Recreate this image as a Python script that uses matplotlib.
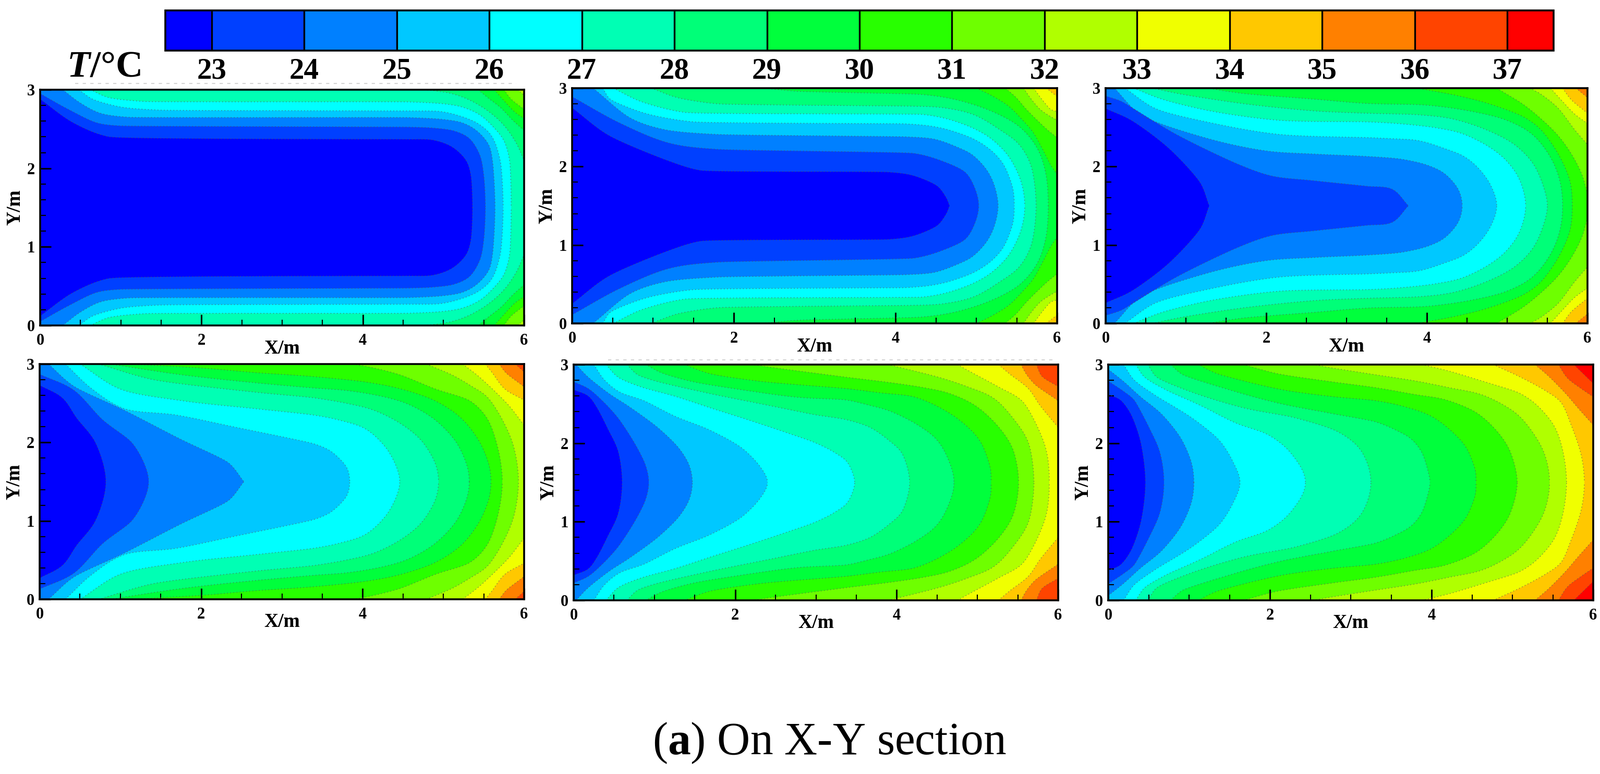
import matplotlib
matplotlib.use('Agg')
import matplotlib.pyplot as plt
import numpy as np
from matplotlib.cm import ScalarMappable
from matplotlib.colors import BoundaryNorm, ListedColormap
from matplotlib.lines import Line2D

W, H = 3068, 1484

plt.rcParams['font.family'] = ['Liberation Serif', 'DejaVu Serif']
plt.rcParams['font.weight'] = 'bold'
plt.rcParams['mathtext.fontset'] = 'custom'
plt.rcParams['mathtext.rm'] = 'Liberation Serif'
plt.rcParams['mathtext.bf'] = 'Liberation Serif:bold'
plt.rcParams['mathtext.it'] = 'Liberation Serif:italic:bold'

# colour of each temperature band, below 23 up to above 37
band_colors = ['#0000ff', '#0040ff', '#0080ff', '#00c8ff', '#00ffff', '#00ffb4', '#00ff78', '#00ff3c',
               '#28ff00', '#6eff00', '#b0ff00', '#f0ff00', '#ffc800', '#ff8000', '#ff4400', '#ff0000']
cbar_bounds = [22.5, 23, 24, 25, 26, 27, 28, 29, 30, 31, 32, 33, 34, 35, 36, 37, 37.5]
cbar_ticks = [23, 24, 25, 26, 27, 28, 29, 30, 31, 32, 33, 34, 35, 36, 37]

# isotherms, lower half of each section (x, y) in metres.
# the sections are mirrored about y = 1.5
panel1 = {
    23: [(0, .12), (.41, .42), (.86, .6), (4.55, .63), (4.87, .64), (5.11, .73), (5.28, .9), (5.34, 1.09), (5.36, 1.5)],
    24: [(0, .05), (.35, .25), (.7, .42), (1.0, .46), (4.55, .475), (4.87, .487), (5.13, .524), (5.32, .62), (5.45, .83), (5.5, 1.09), (5.52, 1.5)],
    25: [(.28, 0), (.5, .17), (.75, .3), (1.1, .35), (4.55, .354), (4.98, .376), (5.23, .42), (5.41, .52), (5.56, .7), (5.61, .92), (5.64, 1.5)],
    26: [(.48, 0), (.65, .12), (1.0, .22), (1.5, .26), (4.55, .27), (4.95, .276), (5.19, .33), (5.41, .42), (5.56, .54), (5.64, .675), (5.71, .94), (5.74, 1.5)],
    27: [(.62, 0), (.85, .1), (1.3, .15), (4.55, .155), (4.98, .177), (5.23, .22), (5.45, .32), (5.62, .476), (5.75, .65), (5.82, .9), (5.84, 1.5)],
    28: [(4.76, 0), (5.08, .044), (5.32, .13), (5.56, .277), (5.75, .454), (5.9, .675), (6, .9)],
    29: [(5.43, 0), (5.56, .11), (5.71, .23), (5.86, .39), (6, .52)],
    30: [(5.63, 0), (5.75, .14), (5.88, .28), (6, .37)],
    31: [(5.75, 0), (5.84, .12), (6, .25)],
    32: [(5.92, 0), (6, .07)],
}
panel2 = {
    23: [(0, .25), (.45, .6), (1.2, .93), (1.6, 1.05), (3.9, 1.07), (4.22, 1.115), (4.52, 1.25), (4.63, 1.4), (4.67, 1.5)],
    24: [(0, .11), (.6, .45), (1.2, .7), (1.8, .78), (4.22, .83), (4.54, .915), (4.86, 1.07), (4.98, 1.27), (5.03, 1.5)],
    25: [(.26, 0), (.72, .38), (1.15, .53), (1.8, .59), (4.11, .62), (4.48, .65), (4.76, .75), (4.95, .85), (5.12, 1.03), (5.22, 1.23), (5.27, 1.5)],
    26: [(.38, 0), (.47, .14), (.9, .32), (1.5, .43), (4.11, .455), (4.41, .48), (4.65, .53), (4.97, .65), (5.19, .8), (5.34, .98), (5.45, 1.27), (5.47, 1.5)],
    27: [(.51, 0), (.85, .17), (1.4, .31), (4.33, .335), (4.65, .395), (4.97, .515), (5.19, .65), (5.4, .87), (5.55, 1.18), (5.6, 1.5)],
    28: [(.98, 0), (1.3, .12), (1.8, .2), (4.22, .23), (4.59, .25), (4.97, .34), (5.29, .53), (5.53, .72), (5.68, 1.0), (5.74, 1.5)],
    29: [(2.35, 0), (2.8, .04), (3.9, .067), (4.37, .085), (4.76, .15), (5.19, .295), (5.53, .49), (5.75, .76), (5.86, 1.09), (5.89, 1.5)],
    30: [(5.0, 0), (5.19, .095), (5.4, .23), (5.57, .405), (5.7, .56), (5.81, .76), (5.92, .98), (6, 1.1)],
    31: [(5.36, 0), (5.49, .117), (5.62, .27), (5.75, .405), (5.89, .54), (6, .63)],
    32: [(5.585, 0), (5.68, .14), (5.79, .27), (5.9, .35), (6, .41)],
    33: [(5.71, 0), (5.81, .14), (5.92, .27), (6, .3)],
    34: [(5.865, 0), (6, .106)],
}
panel3 = {
    23: [(0, .26), (.32, .41), (.79, .77), (1.18, 1.21), (1.29, 1.5)],
    24: [(0, .1), (.2, .17), (.88, .59), (1.65, .97), (2.07, 1.12), (2.59, 1.18), (3.25, 1.25), (3.57, 1.29), (3.77, 1.5)],
    25: [(.11, 0), (.45, .35), (1.3, .65), (2.0, .8), (2.6, .84), (3.25, .87), (3.68, .905), (4.0, .98), (4.22, 1.09), (4.39, 1.29), (4.44, 1.5)],
    26: [(.24, 0), (.62, .26), (1.3, .44), (2.16, .59), (3.25, .63), (3.57, .645), (3.9, .67), (4.22, .77), (4.46, .87), (4.65, 1.03), (4.8, 1.25), (4.87, 1.5)],
    27: [(.35, 0), (.7, .14), (1.3, .29), (2.16, .41), (3.25, .43), (3.68, .455), (4.11, .505), (4.44, .58), (4.76, .74), (4.98, .915), (5.15, 1.16), (5.23, 1.5)],
    28: [(.58, 0), (.96, .08), (1.73, .2), (2.59, .29), (3.25, .32), (3.9, .34), (4.33, .395), (4.76, .54), (5.09, .72), (5.32, .96), (5.45, 1.25), (5.5, 1.5)],
    29: [(1.26, 0), (1.73, .07), (2.59, .14), (3.25, .195), (4.0, .217), (4.55, .295), (4.98, .405), (5.3, .58), (5.52, .85), (5.65, 1.16), (5.69, 1.5)],
    30: [(3.87, 0), (4.33, .085), (4.76, .195), (5.19, .36), (5.41, .52), (5.63, .83), (5.78, 1.18), (5.81, 1.5)],
    31: [(4.87, 0), (5.19, .2), (5.41, .38), (5.63, .6), (5.8, .84), (5.93, 1.1), (6, 1.35)],
    32: [(5.28, 0), (5.41, .07), (5.63, .25), (5.84, .53), (6, .72)],
    33: [(5.54, 0), (5.69, .17), (5.84, .33), (6, .45)],
    34: [(5.69, 0), (5.8, .15), (6, .32)],
    35: [(5.855, 0), (6, .12)],
}
panel4 = {
    23: [(0, .27), (.28, .43), (.46, .69), (.69, 1.0), (.82, 1.5)],
    24: [(0, .13), (.42, .33), (.78, .71), (1.14, 1.0), (1.3, 1.28), (1.35, 1.5)],
    25: [(.11, 0), (.42, .28), (1.05, .59), (1.73, .95), (2.34, 1.26), (2.53, 1.5)],
    26: [(.32, 0), (.64, .31), (1.05, .57), (1.69, .65), (2.4, .8), (3.39, 1.015), (3.61, 1.115), (3.8, 1.315), (3.84, 1.5)],
    27: [(.5, 0), (1.0, .32), (1.78, .47), (2.68, .57), (3.39, .65), (3.71, .715), (4.04, .83), (4.29, 1.07), (4.42, 1.315), (4.46, 1.5)],
    28: [(.73, 0), (1.41, .2), (2.68, .36), (3.39, .43), (3.82, .505), (4.14, .59), (4.47, .76), (4.73, .98), (4.9, 1.27), (4.94, 1.5)],
    29: [(.87, 0), (1.78, .14), (2.68, .24), (3.39, .305), (3.82, .34), (4.25, .415), (4.57, .515), (4.9, .715), (5.16, 1.0), (5.29, 1.29), (5.32, 1.5)],
    30: [(1.1, 0), (2.0, .05), (2.68, .11), (3.39, .16), (4.04, .23), (4.47, .317), (4.9, .47), (5.22, .69), (5.44, .98), (5.56, 1.27), (5.59, 1.5)],
    31: [(3.88, 0), (4.14, .05), (4.47, .14), (4.9, .317), (5.33, .47), (5.54, .69), (5.67, 1.05), (5.73, 1.5)],
    32: [(4.79, 0), (5.11, .14), (5.33, .27), (5.54, .417), (5.72, .69), (5.87, 1.05), (5.93, 1.5)],
    33: [(5.24, 0), (5.44, .16), (5.65, .36), (5.82, .54), (6, .78)],
    34: [(5.52, 0), (5.61, .117), (5.76, .317), (6, .46)],
    35: [(5.69, 0), (5.78, .117), (6, .29)],
    36: [(5.89, 0), (6, .1)],
}
panel5 = {
    23: [(0, .32), (.18, .4), (.29, .55), (.42, .81), (.55, 1.1), (.6, 1.5)],
    24: [(0, .22), (.18, .305), (.355, .46), (.55, .68), (.76, 1.01), (.89, 1.28), (.93, 1.5)],
    25: [(.03, 0), (.18, .16), (.44, .37), (.68, .53), (1.04, .8), (1.3, 1.06), (1.43, 1.28), (1.47, 1.5)],
    26: [(.25, 0), (.38, .195), (.57, .35), (.87, .46), (1.26, .66), (1.69, .836), (2.08, 1.06), (2.31, 1.3), (2.4, 1.5)],
    27: [(.4, 0), (.55, .16), (.83, .283), (1.26, .405), (1.69, .55), (2.12, .69), (2.55, .836), (2.98, .99), (3.2, 1.1), (3.37, 1.22), (3.44, 1.34), (3.48, 1.5)],
    28: [(.66, 0), (.79, .128), (1.04, .217), (1.69, .37), (2.34, .504), (2.98, .637), (3.37, .7), (3.67, .8), (3.91, .97), (4.06, 1.12), (4.14, 1.34), (4.16, 1.5)],
    29: [(.89, 0), (1.09, .106), (1.47, .217), (2.12, .327), (2.77, .416), (3.37, .45), (3.65, .515), (3.91, .59), (4.23, .75), (4.49, .95), (4.64, 1.21), (4.71, 1.5)],
    30: [(1.37, 0), (1.69, .117), (2.34, .217), (3.37, .305), (3.8, .36), (4.19, .405), (4.45, .504), (4.77, .7), (5.03, .97), (5.16, 1.32), (5.17, 1.5)],
    31: [(2.2, 0), (2.55, .05), (3.37, .16), (3.91, .228), (4.34, .294), (4.66, .37), (4.98, .526), (5.26, .79), (5.44, 1.08), (5.51, 1.5)],
    32: [(3.89, 0), (4.23, .084), (4.55, .17), (4.88, .283), (5.2, .427), (5.44, .68), (5.63, .99), (5.7, 1.5)],
    33: [(4.75, 0), (4.98, .128), (5.26, .283), (5.54, .45), (5.69, .68), (5.85, 1.08), (5.89, 1.5)],
    34: [(5.26, 0), (5.41, .128), (5.63, .305), (5.78, .526), (6, .8)],
    35: [(5.54, 0), (5.61, .128), (5.72, .26), (6, .46)],
    36: [(5.73, 0), (5.8, .15), (6, .28)],
}
panel6 = {
    23: [(0, .38), (.15, .45), (.28, .63), (.4, .98), (.46, 1.5)],
    24: [(0, .21), (.19, .34), (.32, .45), (.51, .81), (.64, 1.12), (.69, 1.5)],
    25: [(0, .06), (.19, .215), (.4, .41), (.66, .63), (.9, .94), (1.03, 1.25), (1.06, 1.5)],
    26: [(.19, 0), (.32, .195), (.58, .39), (1.03, .675), (1.37, .96), (1.54, 1.23), (1.63, 1.5)],
    27: [(.34, 0), (.45, .16), (.71, .32), (1.14, .52), (1.57, .74), (1.99, .9), (2.27, 1.14), (2.44, 1.5)],
    28: [(.49, 0), (.6, .16), (1.03, .35), (1.67, .55), (2.32, .68), (2.85, .86), (3.13, 1.1), (3.25, 1.5)],
    29: [(.77, 0), (.92, .128), (1.46, .31), (2.1, .49), (2.75, .62), (3.31, .73), (3.57, .84), (3.75, .95), (3.88, 1.12), (3.96, 1.37), (3.98, 1.5)],
    30: [(1.11, 0), (1.35, .117), (2.1, .31), (2.75, .405), (3.31, .46), (3.68, .54), (4.0, .66), (4.26, .86), (4.43, 1.06), (4.54, 1.34), (4.55, 1.5)],
    31: [(1.67, 0), (2.1, .117), (2.75, .217), (3.31, .294), (3.79, .38), (4.18, .45), (4.56, .615), (4.82, .86), (4.97, 1.1), (5.06, 1.5)],
    32: [(2.53, 0), (2.75, .04), (3.31, .13), (3.79, .206), (4.22, .294), (4.65, .394), (5.04, .615), (5.25, .86), (5.4, 1.146), (5.46, 1.5)],
    33: [(3.88, 0), (4.22, .084), (4.65, .217), (5.08, .36), (5.29, .504), (5.51, .77), (5.62, 1.08), (5.67, 1.5)],
    34: [(4.76, 0), (5.08, .15), (5.4, .327), (5.6, .48), (5.72, .75), (5.85, 1.146), (5.89, 1.5)],
    35: [(5.28, 0), (5.45, .15), (5.66, .37), (5.81, .55), (6, .77)],
    36: [(5.57, 0), (5.68, .17), (5.85, .305), (6, .41)],
    37: [(5.76, 0), (6, .24)],
}
panels = [panel1, panel2, panel3, panel4, panel5, panel6]
# levels that come to a point on the mid line instead of a round nose
pointed = [[], [23], [23, 24], [25], [], []]

# left, right, top, bottom of every frame in pixels
frames = [(77, 1005, 172, 624), (1097, 2027, 169, 620), (2120, 3044, 169, 620),
          (76, 1005, 698, 1149), (1100, 2029, 699, 1151), (2125, 3055, 699, 1151)]


def add_axes_px(left, right, top, bottom):
    return fig.add_axes([left / W, 1 - bottom / H, (right - left) / W, (bottom - top) / H])


def round_off(pts, round_nose):
    # bezier through the read points so the isotherm has no corners,
    # short handles keep the long flat runs from bulging
    p = np.array(pts, dtype=float)
    seg = np.diff(p, axis=0)
    seg_len = np.hypot(seg[:, 0], seg[:, 1])
    unit = seg / seg_len[:, None]
    tang = np.zeros_like(p)
    reach = np.zeros(len(p))
    tang[0] = unit[0]
    reach[0] = seg_len[0]
    tang[-1] = [0, 1] if round_nose else unit[-1]
    reach[-1] = seg_len[-1]
    for i in range(1, len(p) - 1):
        t = unit[i - 1] + unit[i]
        tang[i] = t / np.hypot(t[0], t[1])
        reach[i] = min(seg_len[i - 1], seg_len[i])
    out = [p[:1]]
    s = np.linspace(0, 1, 13)[1:, None]
    for i in range(len(seg)):
        b1 = p[i] + tang[i] * reach[i] / 3
        b2 = p[i + 1] - tang[i + 1] * reach[i + 1] / 3
        out.append((1 - s) ** 3 * p[i] + 3 * (1 - s) ** 2 * s * b1 + 3 * (1 - s) * s ** 2 * b2 + s ** 3 * p[i + 1])
    return np.vstack(out)


def draw_section(ax, isotherms, sharp):
    # paint from hot to cold, each polygon is everything colder than that level
    hottest = max(isotherms)
    ax.fill([0, 6, 6, 0], [0, 0, 3, 3], color=band_colors[hottest - 22], lw=0)
    for level in sorted(isotherms, reverse=True):
        pts = isotherms[level]
        nose = pts[-1][1] == 1.5 and level not in sharp
        low = round_off(pts, nose)
        xs = list(low[:, 0])
        ys = list(low[:, 1])
        up = [3 - y for y in ys]
        poly_x = xs + xs[::-1]
        poly_y = ys + up[::-1]
        if ys[0] == 0:
            poly_x = [0] + poly_x + [0]
            poly_y = [0] + poly_y + [3]
        ax.fill(poly_x, poly_y, color=band_colors[level - 23], lw=0)
        ax.plot(xs, ys, color='#555555', lw=1.1, ls=(0, (1, 3)), alpha=0.7)
        ax.plot(xs, up, color='#555555', lw=1.1, ls=(0, (1, 3)), alpha=0.7)


fig = plt.figure(figsize=(W / 100, H / 100), dpi=100)

for isotherms, sharp, frame in zip(panels, pointed, frames):
    ax = add_axes_px(*frame)
    draw_section(ax, isotherms, sharp)
    ax.set_xlim(0, 6)
    ax.set_ylim(0, 3)
    ax.set_xticks([0, 2, 4, 6])
    ax.set_yticks([0, 1, 2, 3])
    ax.set_xticks([.5, 1, 1.5, 2.5, 3, 3.5, 4.5, 5, 5.5], minor=True)
    ax.set_yticks([.2, .4, .6, .8, 1.2, 1.4, 1.6, 1.8, 2.2, 2.4, 2.6, 2.8], minor=True)
    ax.tick_params(which='major', direction='in', length=15, width=2.2, labelsize=22)
    ax.tick_params(which='minor', direction='in', length=8, width=1.5)
    ax.tick_params(axis='x', which='major', pad=11)
    ax.tick_params(axis='y', which='major', pad=7)
    for side in ax.spines.values():
        side.set_linewidth(2.6)
    ax.set_xlabel('X/m', fontsize=27, fontweight='bold', va='center')
    ax.set_ylabel('Y/m', fontsize=27, fontweight='bold', va='center')
    height = frame[3] - frame[2]
    width = frame[1] - frame[0]
    ax.xaxis.set_label_coords(0.5, -44 / height)
    ax.yaxis.set_label_coords(-48 / width, 0.5)

# colour bar on top, separators sit on the whole degrees
cax = add_axes_px(317, 2979, 20, 97)
norm = BoundaryNorm(cbar_bounds, len(band_colors))
mappable = ScalarMappable(norm=norm, cmap=ListedColormap(band_colors))
cbar = fig.colorbar(mappable, cax=cax, orientation='horizontal', spacing='proportional',
                    ticks=cbar_ticks, drawedges=True)
cbar.dividers.set_color('black')
cbar.dividers.set_linewidth(2.4)
cbar.outline.set_linewidth(2.6)
cax.minorticks_off()
cax.tick_params(length=0, pad=10, labelsize=41)

fig.text(128 / W, 1 - 147 / H, r'$\mathit{T}$/°C', fontsize=52, fontweight='bold', va='baseline')
fig.text(1590 / W, 1 - 1446 / H, r'($\mathbf{a}$) On X-Y section', fontsize=63, fontweight='normal',
         ha='center', va='baseline')

# faint leftovers of the scan above two of the frames
fig.add_artist(Line2D([144 / W, 990 / W], [1 - 160 / H, 1 - 160 / H], color='#d4d4d4', lw=1.5, ls=(0, (3, 4))))
fig.add_artist(Line2D([1166 / W, 2020 / W], [1 - 690 / H, 1 - 690 / H], color='#d4d4d4', lw=1.5, ls=(0, (3, 4))))

fig.savefig('out.png', dpi=100)
